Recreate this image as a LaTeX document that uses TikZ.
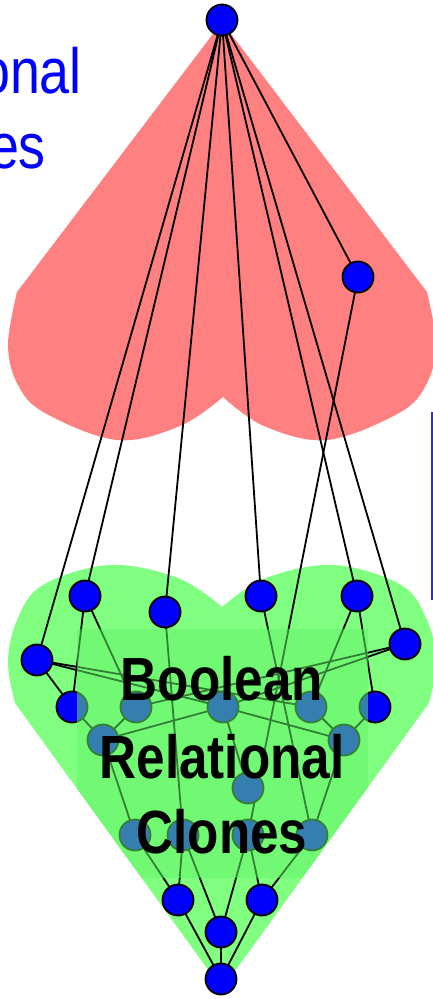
\documentclass[tikz,border=0pt]{standalone}
\usepackage{fontspec}
\newfontfamily\labelfont[FakeStretch=0.84]{Liberation Sans}
\definecolor{vblue}{RGB}{0,0,255}
\definecolor{heartred}{RGB}{255,128,128}
\definecolor{heartgreen}{RGB}{128,255,128}
\definecolor{veil}{RGB}{100,245,105}
\definecolor{rule}{RGB}{50,50,170}
\begin{document}
\begin{tikzpicture}[x=1pt,y=-1pt,
  vtx/.style={circle, draw=black, line width=1.8pt, fill=vblue,
    minimum size=31pt, inner sep=0pt},
  edge/.style={line width=1.8pt, black},
  bigtitle/.style={anchor=base, inner sep=0pt, font=\labelfont\bfseries\fontsize{61}{61}\selectfont},
  sidetitle/.style={anchor=base east, inner sep=0pt, text=vblue, font=\labelfont\fontsize{64}{64}\selectfont}]
\useasboundingbox (0,0) rectangle (433,999);

% upper (red) region, point up
\fill[heartred] (222,22) -- (17,292)
  -- plot[smooth, tension=0.6] coordinates {(17,292) (8,345) (18,385) (45,413) (117,440) (180,426) (223,397)}
  -- plot[smooth, tension=0.6] coordinates {(223,397) (264,426) (327,440) (399,413) (426,385) (436,345) (427,292)}
  -- cycle;

% lower (green) region, point down
\fill[heartgreen] (222,989) -- (15,703)
  -- plot[smooth, tension=0.6] coordinates {(15,703) (8,662) (17,620) (43,585) (110,565) (178,578) (222,607)}
  -- plot[smooth, tension=0.6] coordinates {(222,607) (266,578) (334,565) (401,585) (427,620) (436,662) (429,703)}
  -- cycle;

% side titles
\node[sidetitle] (t1) at (82,93) {onal};
\node[sidetitle] (t2) at (46,168) {es};

% vertical rule on the right
\coordinate (ruletop) at (432,412);
\coordinate (rulebot) at (432,600);
\draw[rule, line width=1.2pt] (ruletop) -- (rulebot);

% vertices
\coordinate (top) at (222,20);
\coordinate (rn) at (358,277);
\coordinate (a) at (85,596);
\coordinate (b) at (165,612);
\coordinate (c) at (261,596);
\coordinate (d) at (357,596);
\coordinate (e) at (37,660);
\coordinate (f) at (405,644);
\coordinate (g) at (72,707);
\coordinate (h) at (375,707);
\coordinate (i) at (136,707);
\coordinate (j) at (223,707);
\coordinate (k) at (311,707);
\coordinate (l) at (103,740);
\coordinate (m) at (344,740);
\coordinate (n) at (248,788);
\coordinate (p1) at (135,835);
\coordinate (p2) at (183,835);
\coordinate (p3) at (248,835);
\coordinate (p4) at (312,835);
\coordinate (q1) at (178,900);
\coordinate (q2) at (262,900);
\coordinate (r) at (221,932);
\coordinate (s) at (221,979);

% edges
\foreach \u/\v in {top/e, top/a, top/b, top/c, top/d, top/f, top/rn,
  rn/p3, e/g, e/j, e/k, f/i, f/j, a/g, a/i, b/p2, c/p4, d/h, d/k,
  g/l, i/l, l/j, h/m, k/m, j/m, j/n, l/p1, m/p4,
  p1/q1, p2/q1, p2/r, p3/r, p3/q2, p4/q2, q1/s, r/s, q2/s}
  \draw[edge] (\u) -- (\v);

% vertex discs
\foreach \v in {top, rn, a, b, c, d, e, f, g, h, i, j, k, l, m, n,
  p1, p2, p3, p4, q1, q2, r, s}
  \node[vtx] (v-\v) at (\v) {};

% translucent label panel, kept inside the green region
\begin{scope}
  \clip (222,989) -- (15,703)
    -- plot[smooth, tension=0.6] coordinates {(15,703) (8,662) (17,620) (43,585) (110,565) (178,578) (222,607)}
    -- plot[smooth, tension=0.6] coordinates {(222,607) (266,578) (334,565) (401,585) (427,620) (436,662) (429,703)}
    -- cycle;
  \fill[veil, opacity=0.52] (77,629) rectangle (368,878);
\end{scope}

% label
\node[bigtitle] (w1) at (222,700) {Boolean};
\node[bigtitle] (w2) at (222,778) {Relational};
\node[bigtitle] (w3) at (222,853) {Clones};
\end{tikzpicture}
\end{document}
